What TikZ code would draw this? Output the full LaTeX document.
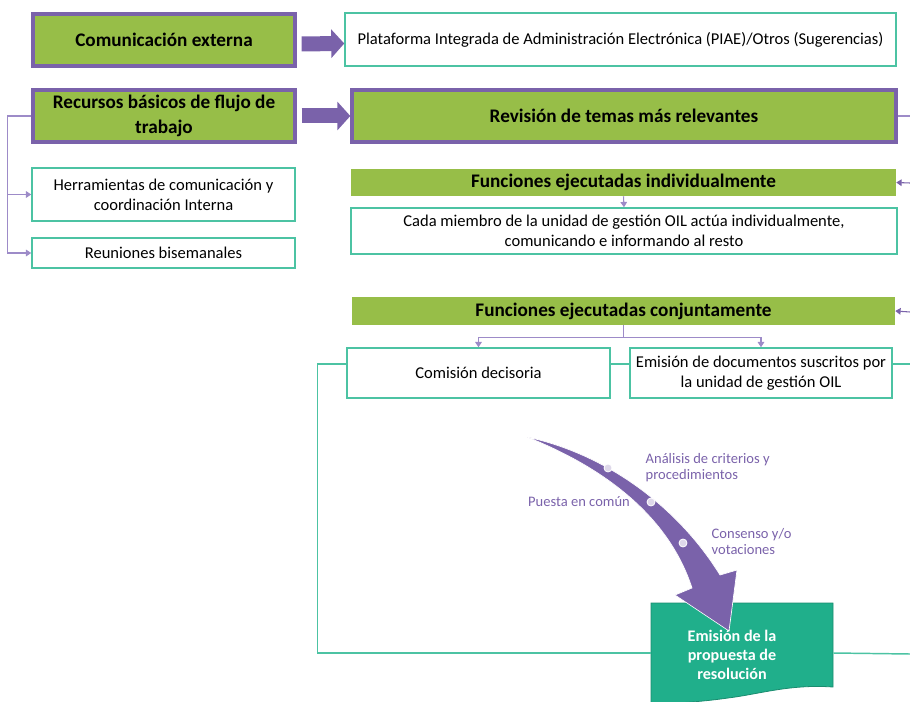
\documentclass[tikz,border=0pt]{standalone}
\usepackage{fontspec}
\setmainfont{Carlito}
\usetikzlibrary{arrows.meta}
\definecolor{lgreen}{HTML}{97BE48}
\definecolor{purp}{HTML}{7A62AA}
\definecolor{lpurp}{HTML}{9D8BC8}
\definecolor{tealb}{HTML}{4CC3A3}
\definecolor{docg}{HTML}{20AF8B}
\tikzset{
  headbox/.style={draw=purp, line width=2.5pt, fill=lgreen, align=center, inner sep=0pt,
    font=\bfseries\fontsize{14.4}{18.3}\selectfont},
  textbox/.style={draw=tealb, line width=1.1pt, fill=white, align=center, inner sep=0pt,
    font=\fontsize{12.4}{15.2}\selectfont},
  bar/.style={fill=lgreen, inner sep=0pt, font=\bfseries\fontsize{14.4}{16}\selectfont},
  blockarrow/.style={draw=purp, line width=11.25pt, -{Triangle[length=9.75pt,width=21pt]}, shorten <=3.75pt},
  link/.style={draw=lpurp, line width=0.8pt},
  linkarrow/.style={link, -{Triangle[length=4pt,width=5pt]}},
  tealline/.style={draw=tealb, line width=1.1pt},
  steplabel/.style={text=purp, font=\fontsize{10.9}{12}\selectfont, align=left},
}
\begin{document}
\begin{tikzpicture}[x=0.75pt,y=-0.75pt]
	\useasboundingbox (0,0) rectangle (910,702);
	\clip (0,0) rectangle (910,702);

	% top row
	\node[headbox, minimum width=196.5pt, minimum height=39pt] (comext) at (164,40) {Comunicación externa};
	\node[textbox, minimum width=413.25pt, minimum height=39.75pt] (plat) at (620.5,39.5) {Plataforma Integrada de Administración Electrónica (PIAE)/Otros (Sugerencias)};
	\draw[blockarrow] ([yshift=-3pt]comext.east) -- ([yshift=-3pt]plat.west);

	\node[headbox, minimum width=196.5pt, minimum height=39pt] (recursos) at (164,116) {Recursos básicos de flujo de\\trabajo};
	\node[headbox, minimum width=408pt, minimum height=39pt] (revision) at (624,116) {Revisión de temas más relevantes};
	\draw[blockarrow] (recursos.east) -- (revision.west);
	\coordinate (rout) at (910,116);
	\draw[link] (revision.east) -- (rout);

	% left column
	\node[textbox, minimum width=197.25pt, minimum height=39.75pt] (herr) at (163.5,194.5) {Herramientas de comunicación y\\coordinación Interna};
	\node[textbox, minimum width=197.25pt, minimum height=22.5pt] (reun) at (163.5,253) {Reuniones bisemanales};
	\draw[linkarrow] (recursos.west) -- ++(-24,0) |- (herr.west);
	\draw[linkarrow] (recursos.west) -- ++(-24,0) |- (reun.west);

	% individual functions
	\node[bar, minimum width=408.75pt, minimum height=20.25pt] (indiv) at (623.5,182.5) {Funciones ejecutadas individualmente};
	\node[textbox, minimum width=409.5pt, minimum height=34.5pt] (cada) at (624,231) {Cada miembro de la unidad de gestión OIL actúa individualmente,\\comunicando e informando al resto};
	\draw[linkarrow] (indiv.south) -- (cada.north);
	\coordinate (rin1) at (910,183);
	\draw[linkarrow, draw=purp] (rin1) -- (indiv.east);

	% joint functions
	\node[bar, minimum width=407.25pt, minimum height=21pt] (conj) at (623.5,311) {Funciones ejecutadas conjuntamente};
	\coordinate (rin2) at (910,312);
	\draw[linkarrow, draw=purp] (rin2) -- (conj.east);
	\node[textbox, minimum width=197.25pt, minimum height=37.5pt] (comision) at (478.5,373) {Comisión decisoria};
	\node[textbox, minimum width=196.5pt, minimum height=37.5pt] (emidoc) at (761,373) {Emisión de documentos suscritos por\\la unidad de gestión OIL};
	\draw[linkarrow] (conj.south) -- ++(0,12) -| (comision.north);
	\draw[linkarrow] (conj.south) -- ++(0,12) -| (emidoc.north);

	% document
	\path[fill=docg, draw=docg!80!black, line width=0.6pt] (651,603) -- (833,603) -- (833,687)
		.. controls (790,684) and (760,694) .. (728,698)
		.. controls (700,702) and (670,704) .. (651,703) -- cycle;
	\node[minimum width=136.5pt, minimum height=75pt, inner sep=0pt] (prop) at (742,653) {};

	\coordinate (rout2) at (910,364);
	\coordinate (rout3) at (910,654);
	\draw[tealline] ([yshift=6.75pt]comision.east) -- ([yshift=6.75pt]emidoc.west);
	\draw[tealline] ([yshift=6.75pt]emidoc.east) -- (rout2);
	\draw[tealline] ([yshift=6.75pt]comision.west) -- ++(-29,0) |- (prop.west);
	\draw[tealline] (prop.east) -- (rout3);

	% curved arrow
	\path[fill=purp, draw=white, line width=0.5pt] (527,437)
		.. controls (610,455) and (680,510) .. (720,575)
		-- (737,570) -- (729,631) -- (675,595) -- (692,588)
		.. controls (670,520) and (610,470) .. (527,437) -- cycle;
	\foreach \px/\py in {608/468, 651/502, 683/543}
		\path[fill=purp!25, draw=white, line width=0.6pt] (\px,\py) circle[radius=3pt];

	\node[steplabel] (puesta) at (579,502) {Puesta en común};
	\node[steplabel, anchor=west] (analisis) at (641,468) {Análisis de criterios y\\procedimientos};
	\node[steplabel, anchor=west] (consenso) at (707,542) {Consenso y/o\\votaciones};

	\node[font=\bfseries\fontsize{12.1}{14}\selectfont, text=white, align=center] (proptext) at (732,655) {Emisión de la\\propuesta de\\resolución};
\end{tikzpicture}
\end{document}
